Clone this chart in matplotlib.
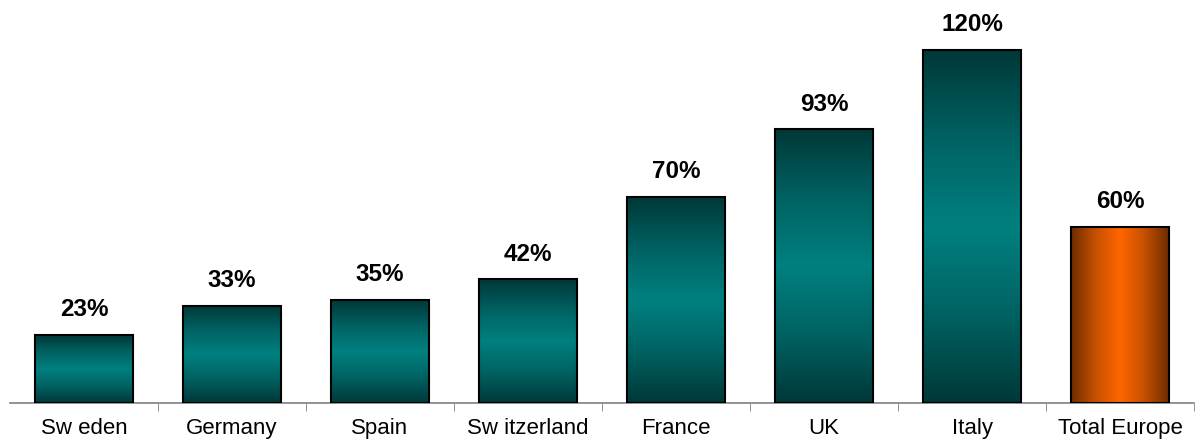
import numpy as np
import matplotlib.pyplot as plt
from matplotlib import font_manager
from matplotlib.colors import LinearSegmentedColormap

countries = ["Sw eden", "Germany", "Spain", "Sw itzerland", "France", "UK", "Italy", "Total Europe"]
values = [23, 33, 35, 42, 70, 93, 120, 60]
labels = ["23%", "33%", "35%", "42%", "70%", "93%", "120%", "60%"]

plt.rcParams['font.family'] = ['Liberation Sans', 'DejaVu Sans']

# avoid the narrow variant being picked for bold
bold_file = None
for f in font_manager.fontManager.ttflist:
    if f.name == "Liberation Sans" and f.weight in (700, "bold") and f.style == "normal" and "Narrow" not in f.fname:
        bold_file = f.fname
if bold_file:
    bold = font_manager.FontProperties(fname=bold_file, size=17.5)
else:
    bold = font_manager.FontProperties(family="DejaVu Sans", weight="bold", size=16)

teal = LinearSegmentedColormap.from_list("teal", ["#003838", "#006262", "#008080", "#006262", "#003838"])
orange = LinearSegmentedColormap.from_list("orange", ["#6e2c00", "#c65000", "#ff6600", "#c65000", "#6e2c00"])

fig = plt.figure(figsize=(11.95, 4.41), dpi=100)
ax = fig.add_axes([10 / 1195, 38 / 441, 1184 / 1195, 403 / 441])

x = np.arange(len(countries))
bars = ax.bar(x, values, width=0.66, edgecolor="black", linewidth=1.5, facecolor="none", zorder=3)

ramp = np.linspace(0, 1, 256)
for i, b in enumerate(bars):
    x0, y0 = b.get_x(), b.get_y()
    w, h = b.get_width(), b.get_height()
    if i == len(bars) - 1:
        img = ramp.reshape(1, -1)
        cm = orange
    else:
        img = ramp.reshape(-1, 1)
        cm = teal
    im = ax.imshow(img, cmap=cm, extent=[x0, x0 + w, y0, y0 + h], aspect="auto", zorder=2, origin="lower")
    im.set_clip_path(b)
    ax.annotate(labels[i], (x[i], values[i]), xytext=(0, 10), textcoords="offset points",
                ha="center", va="bottom", fontproperties=bold)

ax.set_xlim(-0.5, len(countries) - 0.5)
ax.set_ylim(0, 137)
ax.set_xticks(x)
ax.set_xticklabels(countries, fontsize=16)
ax.set_xticks(np.arange(len(countries)) + 0.5, minor=True)
ax.tick_params(axis="x", which="major", length=0, pad=11)
ax.tick_params(axis="x", which="minor", length=6, color="#808080")
ax.set_yticks([])
for s in ["top", "right", "left"]:
    ax.spines[s].set_visible(False)
ax.spines["bottom"].set_color("#808080")
ax.spines["bottom"].set_linewidth(1.2)

fig.savefig("out.png", dpi=100)
